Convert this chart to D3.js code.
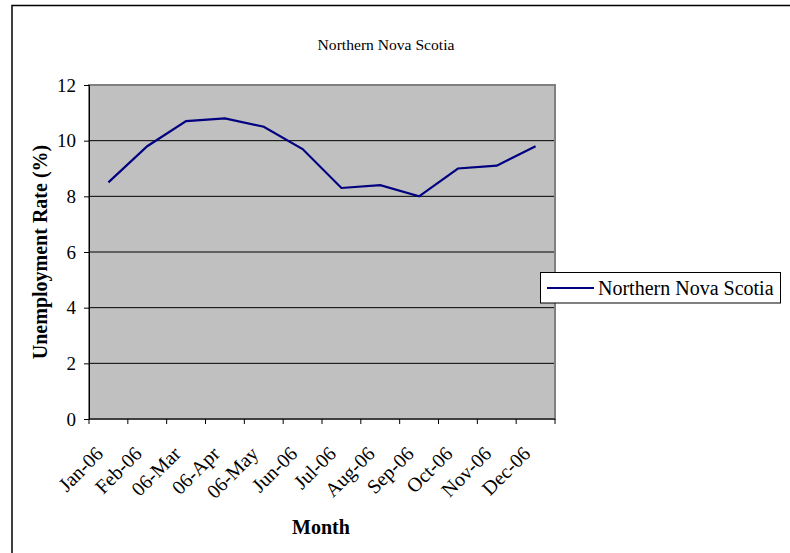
<!DOCTYPE html>
<html><head><meta charset="utf-8">
<script src="https://cdn.jsdelivr.net/npm/d3@7"></script>
<style>body{margin:0;background:#fff;} svg{display:block;} svg text{font-family:"Liberation Serif","Times New Roman",serif !important;}</style>
</head><body><svg id="c" width="790" height="553"></svg>
<script>
const categories = ["Jan-06","Feb-06","06-Mar","06-Apr","06-May","Jun-06","Jul-06","Aug-06","Sep-06","Oct-06","Nov-06","Dec-06"];
const values = [8.5, 9.8, 10.7, 10.8, 10.5, 9.7, 8.3, 8.4, 8.0, 9.0, 9.1, 9.8];
const yTicks = [0, 2, 4, 6, 8, 10, 12];
const seriesName = "Northern Nova Scotia";
const title = "Northern Nova Scotia";

const FF = '"Liberation Serif","Times New Roman",serif';
const svg = d3.select("#c");
const L = 89, R = 555, T = 85, B = 419;

svg.append("rect").attr("x", 12).attr("y", 5.5).attr("width", 800).attr("height", 600)
  .attr("fill", "none").attr("stroke", "#000").attr("stroke-width", 1.5);

const x = d3.scaleBand().domain(categories).range([L, R]).padding(0);
const y = d3.scaleLinear().domain([0, 12]).range([B, T]);

svg.append("rect").attr("x", L).attr("y", T).attr("width", R - L).attr("height", B - T).attr("fill", "#c0c0c0");

// gridlines
svg.append("g").selectAll("line").data(yTicks.filter(d => d > 0 && d < 12)).join("line")
  .attr("x1", L).attr("x2", R).attr("y1", d => y(d)).attr("y2", d => y(d))
  .attr("stroke", "#000").attr("stroke-width", 1);

// plot border
svg.append("rect").attr("x", L).attr("y", T).attr("width", R - L).attr("height", B - T)
  .attr("fill", "none").attr("stroke", "#808080").attr("stroke-width", 2);

// y axis
const ya = svg.append("g").attr("transform", `translate(${L},0)`)
  .call(d3.axisLeft(y).tickValues(yTicks).tickSize(5).tickPadding(8));
ya.attr("font-family", FF);
ya.select(".domain").attr("stroke", "#000");
ya.selectAll("line").attr("stroke", "#000");
ya.selectAll("text").style("font-family", FF).attr("font-size", 19).attr("fill", "#000");

// x axis
const xa = svg.append("g").attr("transform", `translate(0,${B})`);
xa.append("line").attr("x1", L).attr("x2", R).attr("stroke", "#000");
const bounds = d3.range(categories.length + 1).map(i => L + i * x.bandwidth());
xa.selectAll("line.t").data(bounds).join("line").attr("class", "t")
  .attr("x1", d => d).attr("x2", d => d).attr("y1", 0).attr("y2", 5).attr("stroke", "#000");
xa.selectAll("text").data(categories).join("text")
  .attr("transform", d => `translate(${x(d) + x.bandwidth() / 2 - 9},${31}) rotate(-45)`)
  .attr("text-anchor", "end").attr("dy", "0.35em")
  .style("font-family", FF).attr("font-size", 20).attr("fill", "#000").text(d => d);

// line
const line = d3.line().x((d, i) => x(categories[i]) + x.bandwidth() / 2).y(d => y(d));
svg.append("path").datum(values).attr("d", line).attr("fill", "none")
  .attr("stroke", "#000080").attr("stroke-width", 2.2);

// titles
svg.append("text").attr("x", 386).attr("y", 50).attr("text-anchor", "middle")
  .style("font-family", FF).attr("font-size", 15.6).attr("fill", "#000").text(title);
svg.append("text").attr("x", 321).attr("y", 534).attr("text-anchor", "middle")
  .style("font-family", FF).attr("font-size", 20).attr("font-weight", "bold").attr("fill", "#000").text("Month");
svg.append("text").attr("transform", `translate(47,${(T + B) / 2}) rotate(-90)`)
  .attr("text-anchor", "middle").style("font-family", FF).attr("font-size", 20).attr("font-weight", "bold").attr("fill", "#000")
  .text("Unemployment Rate (%)");

// legend
const lg = svg.append("g");
lg.append("rect").attr("x", 540.5).attr("y", 272.5).attr("width", 240).attr("height", 30.5)
  .attr("fill", "#fff").attr("stroke", "#000").attr("stroke-width", 1);
lg.append("line").attr("x1", 547).attr("x2", 594).attr("y1", 288).attr("y2", 288)
  .attr("stroke", "#000080").attr("stroke-width", 2.2);
lg.append("text").attr("x", 598).attr("y", 295).style("font-family", FF).attr("font-size", 20).attr("fill", "#000").text(seriesName);
</script></body></html>
